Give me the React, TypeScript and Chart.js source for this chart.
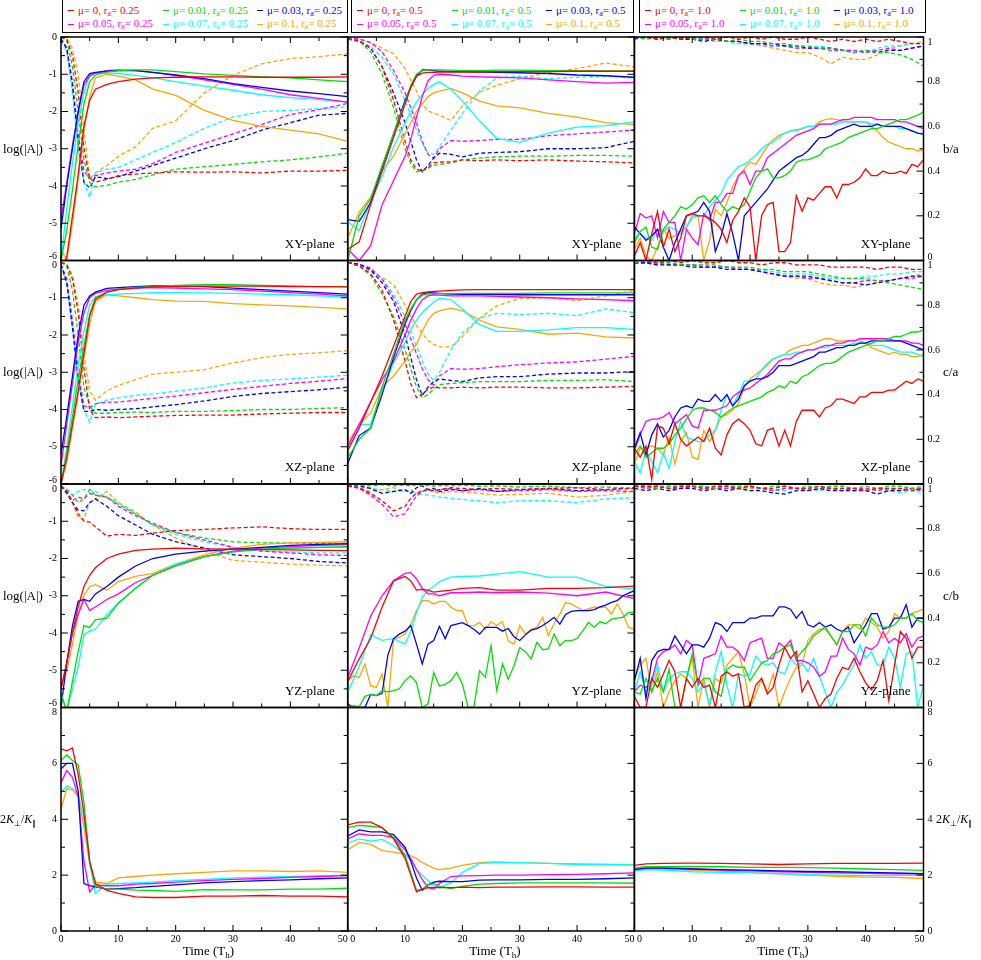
import React, { useEffect, useRef } from 'react';
import { Chart, registerables } from 'chart.js';
Chart.register(...registerables);

const W = 981;
const H = 960;
const COL_X = [61, 347.7, 634.4, 923.5];
const ROW_Y = [37, 260.5, 484, 707.5, 931];
const FONT = '"Liberation Serif", "Times New Roman", serif';

const COLORS = ['#ff0000', '#00e000', '#0000ff', '#ff00ff', '#00ffff', '#ffa500'];
const MU = ['0', '0.01', '0.03', '0.05', '0.07', '0.1'];
const RA = ['0.25', '0.5', '1.0'];
const PLANES = ['XY-plane', 'XZ-plane', 'YZ-plane'];
const RATIO_NAMES = ['b/a', 'c/a', 'c/b'];

const TIME_TICKS = [0, 10, 20, 30, 40, 50];
const LOG_TICKS = [0, -1, -2, -3, -4, -5, -6];
const RATIO_TICKS = [0, 0.2, 0.4, 0.6, 0.8, 1];
const ANISO_TICKS = [0, 2, 4, 6, 8];

// time grids
const T1 = [0, 1, 2, 3, 4, 5, 6, 8, 10, 13, 16, 20, 25, 30, 35, 40, 45, 50];
const T2 = [0, 2, 4, 6, 8, 10, 11, 12, 13, 14, 15, 16, 18, 20, 23, 26, 30, 35, 40, 45, 50];
const TF = [0, 1, 2, 3, 4, 5, 6, 7, 8, 9, 10, 11, 12, 13, 14, 15, 16, 17, 18, 19, 20, 21, 22, 23, 24, 25, 26, 27, 28, 29, 30, 31, 32, 33, 34, 35, 36, 37, 38, 39, 40, 41, 42, 43, 44, 45, 46, 47, 48, 49, 50];
const TC = [0, 2, 4, 6, 8, 10, 12, 14, 16, 18, 20, 22, 24, 26, 28, 30, 32, 34, 36, 38, 40, 42, 44, 46, 48, 50];
const TL = [0, 2, 5, 10, 15, 20, 25, 30, 35, 40, 45, 50];

// ---------- Row 1: XY plane ----------
const XY025_SOLID = [
  [-6.3, -5.9, -4.8, -3.7, -2.4, -1.7, -1.4, -1.27, -1.2, -1.13, -1.1, -1.08, -1.07, -1.07, -1.08, -1.08, -1.08, -1.07],
  [-6.0, -5.2, -4.1, -2.9, -1.8, -1.2, -1.02, -0.94, -0.9, -0.88, -0.88, -0.93, -0.99, -1.03, -1.07, -1.1, -1.15, -1.2],
  [-5.15, -4.0, -3.0, -2.0, -1.2, -0.98, -0.95, -0.92, -0.9, -0.9, -0.95, -1.02, -1.12, -1.25, -1.35, -1.45, -1.52, -1.6],
  [-4.9, -3.9, -2.9, -2.0, -1.3, -1.05, -0.97, -0.9, -0.88, -0.9, -0.95, -1.03, -1.15, -1.27, -1.4, -1.55, -1.65, -1.75],
  [-6.0, -4.6, -3.4, -2.3, -1.5, -1.0, -0.97, -0.97, -0.98, -1.03, -1.1, -1.2, -1.32, -1.43, -1.55, -1.63, -1.68, -1.75],
  [-5.7, -6.0, -5.0, -3.8, -2.5, -1.6, -1.1, -1.0, -1.05, -1.15, -1.4, -1.57, -1.97, -2.24, -2.4, -2.5, -2.6, -2.8],
];
const XY025_DASH = [
  [0, -0.05, -0.5, -1.5, -3.0, -3.8, -3.9, -3.82, -3.72, -3.68, -3.65, -3.62, -3.63, -3.62, -3.65, -3.6, -3.6, -3.58],
  [0, -0.1, -0.8, -2.0, -3.3, -3.9, -4.02, -3.98, -3.9, -3.82, -3.7, -3.55, -3.48, -3.42, -3.35, -3.3, -3.22, -3.12],
  [-0.05, -0.3, -1.3, -2.8, -3.9, -4.05, -3.75, -3.8, -3.75, -3.6, -3.45, -3.25, -3.0, -2.78, -2.5, -2.3, -2.1, -2.05],
  [-0.05, -0.3, -1.2, -2.6, -3.6, -3.8, -3.72, -3.65, -3.6, -3.55, -3.4, -3.1, -2.85, -2.6, -2.35, -2.08, -1.95, -1.78],
  [-0.1, -0.4, -1.5, -3.0, -3.9, -4.3, -3.65, -3.55, -3.5, -3.3, -3.1, -2.83, -2.45, -2.15, -2.0, -1.97, -1.92, -1.88],
  [0, -0.05, -0.3, -1.0, -2.5, -3.8, -3.65, -3.45, -3.2, -2.95, -2.45, -2.25, -1.5, -1.03, -0.72, -0.58, -0.53, -0.45],
];
const XY05_SOLID = [
  [-5.7, -5.5, -4.5, -3.6, -2.7, -1.8, -1.35, -1.05, -0.97, -0.95, -0.95, -0.94, -0.94, -0.94, -0.94, -0.93, -0.93, -0.93, -0.92, -0.92, -0.92],
  [-6.0, -4.8, -4.35, -3.45, -2.6, -1.75, -1.3, -1.0, -0.9, -0.88, -0.88, -0.88, -0.89, -0.9, -0.9, -0.89, -0.89, -0.9, -0.9, -0.91, -0.91],
  [-4.9, -4.95, -4.45, -3.5, -2.6, -1.7, -1.35, -1.05, -0.88, -0.88, -0.9, -0.92, -0.93, -0.93, -0.94, -0.95, -0.96, -0.98, -1.02, -1.04, -1.08],
  [-5.7, -6.0, -5.6, -4.5, -3.85, -3.2, -2.75, -2.15, -1.6, -1.18, -1.03, -1.0, -1.02, -1.05, -1.07, -1.08, -1.1, -1.15, -1.2, -1.24, -1.22],
  [-4.95, -5.2, -4.4, -3.75, -2.95, -2.3, -2.0, -1.75, -1.55, -1.38, -1.28, -1.2, -1.4, -1.72, -2.25, -2.72, -2.83, -2.58, -2.42, -2.38, -2.28],
  [-5.4, -4.7, -4.3, -3.6, -3.2, -2.6, -2.3, -2.0, -1.8, -1.6, -1.5, -1.45, -1.38, -1.5, -1.72, -1.85, -1.9, -2.05, -2.15, -2.3, -2.35],
];
const XY05_DASH = [
  [-0.05, -0.1, -0.3, -0.8, -1.7, -2.8, -3.3, -3.55, -3.6, -3.5, -3.38, -3.36, -3.35, -3.3, -3.32, -3.3, -3.32, -3.3, -3.33, -3.35, -3.38],
  [-0.05, -0.1, -0.4, -1.0, -1.9, -3.0, -3.4, -3.62, -3.6, -3.52, -3.45, -3.42, -3.38, -3.3, -3.25, -3.22, -3.2, -3.2, -3.18, -3.18, -3.2],
  [-0.05, -0.12, -0.3, -0.8, -1.5, -2.3, -2.8, -3.3, -3.62, -3.45, -3.25, -3.12, -3.15, -3.22, -3.12, -3.1, -3.08, -3.0, -3.0, -2.97, -2.8],
  [-0.02, -0.05, -0.15, -0.4, -0.9, -1.5, -1.9, -2.3, -2.8, -3.15, -3.25, -3.0, -2.78, -2.8, -2.78, -2.75, -2.75, -2.65, -2.6, -2.55, -2.5],
  [-0.05, -0.1, -0.25, -0.55, -1.0, -1.7, -2.1, -2.5, -2.85, -3.1, -3.15, -2.95, -2.5, -2.05, -1.45, -1.1, -1.05, -1.12, -1.08, -1.05, -1.1],
  [-0.02, -0.05, -0.15, -0.3, -0.45, -0.85, -1.15, -1.45, -1.8, -1.98, -2.05, -2.1, -2.24, -1.85, -1.48, -1.3, -1.12, -0.95, -0.85, -0.7, -0.8],
];
const BA_SOLID = [
  [0.02, 0.08, 0.0, 0.12, 0.22, 0.06, 0.14, 0.04, 0.1, 0.2, 0.21, 0.2, 0.2, 0.19, 0.17, 0.14, 0.08, 0.18, 0.22, 0.28, 0.24, 0.0, 0.2, 0.25, 0.26, 0.04, 0.04, 0.08, 0.29, 0.22, 0.28, 0.27, 0.3, 0.33, 0.33, 0.28, 0.34, 0.34, 0.35, 0.37, 0.41, 0.38, 0.38, 0.4, 0.39, 0.39, 0.4, 0.39, 0.43, 0.42, 0.45],
  [0.08, 0.13, 0.15, 0.06, 0.05, 0.14, 0.17, 0.2, 0.24, 0.23, 0.25, 0.28, 0.29, 0.26, 0.29, 0.25, 0.22, 0.24, 0.23, 0.25, 0.31, 0.37, 0.4, 0.41, 0.37, 0.37, 0.38, 0.4, 0.44, 0.45, 0.45, 0.46, 0.47, 0.5, 0.51, 0.52, 0.53, 0.55, 0.56, 0.57, 0.58, 0.59, 0.59, 0.6, 0.61, 0.62, 0.63, 0.63, 0.64, 0.65, 0.665],
  [0.15, 0.12, 0.09, 0.11, 0.14, 0.06, 0.0, 0.08, 0.14, 0.2, 0.21, 0.22, 0.26, 0.22, 0.04, 0.11, 0.21, 0.12, 0.0, 0.2, 0.23, 0.26, 0.29, 0.32, 0.36, 0.4, 0.42, 0.44, 0.46, 0.47, 0.49, 0.52, 0.55, 0.55, 0.56, 0.58, 0.59, 0.6, 0.61, 0.6, 0.6, 0.6, 0.61, 0.6, 0.6, 0.6, 0.6, 0.59, 0.58, 0.57, 0.565],
  [0.12, 0.21, 0.19, 0.2, 0.1, 0.22, 0.17, 0.17, 0.0, 0.14, 0.1, 0.07, 0.21, 0.18, 0.26, 0.26, 0.3, 0.3, 0.38, 0.4, 0.34, 0.4, 0.4, 0.46, 0.48, 0.5, 0.52, 0.54, 0.56, 0.57, 0.58, 0.59, 0.61, 0.61, 0.61, 0.62, 0.63, 0.63, 0.64, 0.64, 0.64, 0.64, 0.63, 0.63, 0.63, 0.63, 0.62, 0.62, 0.61, 0.6, 0.59],
  [0.1, 0.12, 0.1, 0.09, 0.14, 0.13, 0.15, 0.14, 0.12, 0.15, 0.19, 0.2, 0.2, 0.24, 0.27, 0.3, 0.36, 0.39, 0.42, 0.43, 0.45, 0.47, 0.5, 0.52, 0.53, 0.55, 0.57, 0.58, 0.58, 0.59, 0.6, 0.6, 0.61, 0.61, 0.61, 0.61, 0.62, 0.62, 0.62, 0.62, 0.62, 0.61, 0.61, 0.6, 0.6, 0.6, 0.59, 0.59, 0.58, 0.57, 0.565],
  [0.05, 0.1, 0.02, 0.0, 0.06, 0.14, 0.1, 0.11, 0.13, 0.15, 0.2, 0.2, 0.0, 0.09, 0.23, 0.2, 0.26, 0.33, 0.38, 0.41, 0.44, 0.43, 0.47, 0.51, 0.54, 0.56, 0.57, 0.58, 0.585, 0.59, 0.6, 0.6, 0.62, 0.63, 0.635, 0.63, 0.625, 0.62, 0.62, 0.62, 0.62, 0.6, 0.58, 0.55, 0.53, 0.52, 0.51, 0.5, 0.5, 0.49, 0.495],
];
const BA_DASH = [
  [1.0, 1.0, 0.99, 1.0, 0.99, 1.0, 1.0, 0.99, 1.0, 0.99, 1.0, 0.99, 1.0, 0.99, 0.99, 1.0, 0.99, 0.98, 0.99, 0.98, 0.99, 0.98, 0.99, 0.98, 0.97, 0.97],
  [1.0, 0.99, 1.0, 0.99, 1.0, 0.99, 0.99, 0.99, 0.98, 0.99, 0.98, 0.98, 0.97, 0.97, 0.96, 0.96, 0.95, 0.95, 0.94, 0.93, 0.94, 0.93, 0.93, 0.92, 0.9, 0.87],
  [0.99, 1.0, 0.99, 1.0, 0.99, 0.99, 0.98, 0.99, 0.98, 0.98, 0.97, 0.97, 0.97, 0.96, 0.96, 0.95, 0.95, 0.95, 0.94, 0.93, 0.94, 0.93, 0.94, 0.94, 0.95, 0.96],
  [1.0, 1.0, 1.0, 0.99, 1.0, 0.99, 0.99, 0.99, 0.98, 0.98, 0.97, 0.97, 0.96, 0.96, 0.95, 0.95, 0.95, 0.94, 0.94, 0.94, 0.93, 0.94, 0.95, 0.94, 0.95, 0.96],
  [1.0, 1.0, 0.99, 1.0, 0.99, 1.0, 0.99, 0.98, 0.98, 0.97, 0.97, 0.96, 0.96, 0.96, 0.95, 0.95, 0.96, 0.95, 0.94, 0.94, 0.93, 0.95, 0.96, 0.96, 0.97, 0.97],
  [1.0, 1.0, 1.0, 0.99, 1.0, 0.99, 0.99, 0.98, 0.98, 0.98, 0.97, 0.96, 0.95, 0.94, 0.93, 0.93, 0.91, 0.88, 0.91, 0.9, 0.9, 0.92, 0.95, 0.96, 0.97, 0.98],
];

// ---------- Row 2: XZ plane ----------
const XZ025_SOLID = [
  [-6.0, -5.3, -4.4, -3.5, -2.5, -1.5, -1.05, -0.85, -0.78, -0.74, -0.71, -0.7, -0.69, -0.69, -0.69, -0.7, -0.7, -0.71],
  [-6.0, -5.2, -4.2, -3.2, -2.3, -1.45, -1.0, -0.85, -0.78, -0.72, -0.7, -0.67, -0.65, -0.65, -0.67, -0.68, -0.7, -0.7],
  [-5.2, -4.2, -3.1, -2.0, -1.2, -0.95, -0.85, -0.75, -0.73, -0.7, -0.68, -0.68, -0.7, -0.74, -0.78, -0.82, -0.86, -0.9],
  [-5.5, -4.4, -3.3, -2.2, -1.4, -1.0, -0.88, -0.8, -0.77, -0.74, -0.73, -0.74, -0.76, -0.78, -0.82, -0.86, -0.9, -0.95],
  [-6.0, -5.0, -3.9, -2.8, -1.9, -1.2, -0.97, -0.92, -0.9, -0.88, -0.86, -0.86, -0.87, -0.88, -0.9, -0.92, -0.95, -0.98],
  [-6.0, -5.4, -4.5, -3.6, -2.6, -1.7, -1.1, -0.92, -0.95, -1.0, -1.05, -1.09, -1.1, -1.16, -1.19, -1.22, -1.26, -1.3],
];
const XZ025_DASH = [
  [-0.05, -0.1, -0.5, -1.4, -2.9, -4.0, -4.22, -4.2, -4.22, -4.2, -4.18, -4.16, -4.15, -4.15, -4.12, -4.1, -4.08, -4.08],
  [-0.05, -0.15, -0.8, -2.0, -3.4, -3.9, -4.1, -4.1, -4.08, -4.07, -4.08, -4.05, -4.05, -4.03, -4.0, -4.0, -3.97, -3.95],
  [-0.1, -0.6, -1.8, -3.2, -4.05, -4.05, -4.0, -4.02, -4.0, -3.98, -3.93, -3.87, -3.77, -3.65, -3.57, -3.52, -3.47, -3.4],
  [-0.1, -0.5, -1.6, -3.0, -3.9, -3.95, -3.85, -3.8, -3.8, -3.75, -3.7, -3.64, -3.55, -3.46, -3.38, -3.3, -3.24, -3.17],
  [-0.15, -0.6, -1.8, -3.2, -4.0, -4.35, -3.85, -3.75, -3.69, -3.62, -3.58, -3.51, -3.42, -3.29, -3.22, -3.18, -3.13, -3.08],
  [-0.05, -0.1, -0.4, -1.2, -2.5, -3.5, -3.75, -3.5, -3.35, -3.2, -3.05, -3.0, -2.93, -2.75, -2.61, -2.52, -2.48, -2.42],
];
const XZ05_SOLID = [
  [-5.1, -4.5, -3.8, -3.1, -2.3, -1.5, -1.1, -0.9, -0.86, -0.84, -0.83, -0.82, -0.8, -0.79, -0.78, -0.78, -0.78, -0.78, -0.78, -0.78, -0.78],
  [-5.3, -4.8, -4.5, -3.4, -2.5, -1.6, -1.3, -1.05, -0.93, -0.9, -0.89, -0.89, -0.89, -0.88, -0.88, -0.88, -0.88, -0.87, -0.87, -0.87, -0.87],
  [-5.45, -4.7, -4.5, -3.6, -2.6, -1.7, -1.35, -1.05, -0.9, -0.86, -0.87, -0.88, -0.9, -0.91, -0.91, -0.91, -0.92, -0.92, -0.92, -0.92, -0.92],
  [-5.0, -4.4, -3.8, -3.2, -2.7, -2.0, -1.6, -1.3, -1.05, -0.95, -0.92, -0.93, -0.95, -0.95, -0.95, -0.96, -0.98, -1.0, -1.03, -1.05, -1.08],
  [-5.0, -4.4, -4.4, -3.5, -2.75, -2.2, -1.85, -1.6, -1.4, -1.25, -1.12, -1.02, -1.05, -1.3, -1.72, -1.9, -1.9, -1.86, -1.8, -1.8, -1.85],
  [-4.9, -4.4, -4.1, -3.4, -3.1, -2.7, -2.45, -2.25, -1.9, -1.6, -1.42, -1.35, -1.28, -1.35, -1.6, -1.78, -1.85, -1.98, -1.95, -2.05, -2.08],
];
const XZ05_DASH = [
  [-0.05, -0.15, -0.35, -0.8, -1.6, -2.7, -3.3, -3.68, -3.6, -3.45, -3.4, -3.42, -3.42, -3.4, -3.42, -3.4, -3.4, -3.42, -3.42, -3.4, -3.38],
  [-0.05, -0.15, -0.4, -0.9, -1.5, -2.4, -2.9, -3.4, -3.68, -3.6, -3.45, -3.33, -3.3, -3.28, -3.25, -3.25, -3.25, -3.22, -3.22, -3.2, -3.25],
  [-0.05, -0.1, -0.25, -0.6, -1.1, -2.0, -2.6, -3.2, -3.62, -3.4, -3.25, -3.18, -3.22, -3.25, -3.15, -3.12, -3.12, -3.05, -3.02, -3.02, -2.98],
  [-0.05, -0.1, -0.2, -0.5, -1.0, -1.7, -2.1, -2.5, -2.9, -3.2, -3.35, -3.1, -2.9, -2.92, -2.9, -2.85, -2.8, -2.75, -2.72, -2.65, -2.57],
  [-0.05, -0.1, -0.25, -0.5, -0.9, -1.5, -1.9, -2.3, -2.7, -3.05, -3.22, -3.0, -2.4, -1.95, -1.55, -1.42, -1.45, -1.42, -1.48, -1.3, -1.4],
  [-0.05, -0.1, -0.3, -0.45, -0.65, -1.2, -1.5, -1.75, -1.95, -2.15, -2.25, -2.32, -2.32, -2.05, -1.55, -1.22, -1.02, -1.0, -1.08, -0.95, -0.8],
];
const CA_SOLID = [
  [0.16, 0.12, 0.17, 0.02, 0.26, 0.25, 0.18, 0.27, 0.2, 0.17, 0.19, 0.21, 0.19, 0.25, 0.16, 0.13, 0.22, 0.27, 0.29, 0.27, 0.24, 0.18, 0.17, 0.24, 0.25, 0.17, 0.24, 0.17, 0.28, 0.33, 0.33, 0.33, 0.3, 0.34, 0.35, 0.38, 0.38, 0.37, 0.36, 0.39, 0.39, 0.41, 0.41, 0.41, 0.42, 0.42, 0.44, 0.46, 0.45, 0.47, 0.46],
  [0.13, 0.17, 0.12, 0.14, 0.16, 0.16, 0.18, 0.22, 0.25, 0.29, 0.33, 0.34, 0.34, 0.33, 0.32, 0.3, 0.32, 0.34, 0.35, 0.36, 0.37, 0.38, 0.39, 0.41, 0.42, 0.44, 0.43, 0.46, 0.45, 0.48, 0.49, 0.51, 0.53, 0.54, 0.54, 0.55, 0.57, 0.59, 0.6, 0.61, 0.62, 0.63, 0.64, 0.64, 0.65, 0.66, 0.66, 0.67, 0.68, 0.68, 0.69],
  [0.16, 0.23, 0.13, 0.22, 0.27, 0.21, 0.24, 0.3, 0.34, 0.35, 0.34, 0.38, 0.37, 0.37, 0.4, 0.37, 0.4, 0.35, 0.38, 0.44, 0.46, 0.47, 0.47, 0.48, 0.5, 0.53, 0.53, 0.53, 0.54, 0.55, 0.56, 0.57, 0.59, 0.59, 0.6, 0.61, 0.61, 0.62, 0.62, 0.63, 0.63, 0.64, 0.64, 0.64, 0.64, 0.64, 0.64, 0.63, 0.62, 0.61, 0.6],
  [0.15, 0.22, 0.28, 0.29, 0.29, 0.3, 0.32, 0.27, 0.29, 0.31, 0.26, 0.25, 0.33, 0.33, 0.33, 0.34, 0.35, 0.39, 0.41, 0.42, 0.43, 0.45, 0.47, 0.49, 0.52, 0.55, 0.56, 0.56, 0.58, 0.59, 0.6, 0.6, 0.61, 0.62, 0.62, 0.63, 0.63, 0.64, 0.64, 0.65, 0.65, 0.65, 0.65, 0.65, 0.65, 0.64, 0.64, 0.64, 0.63, 0.63, 0.62],
  [0.1, 0.05, 0.15, 0.1, 0.05, 0.14, 0.07, 0.19, 0.28, 0.21, 0.2, 0.19, 0.19, 0.22, 0.24, 0.33, 0.4, 0.35, 0.4, 0.46, 0.46, 0.47, 0.51, 0.54, 0.56, 0.57, 0.58, 0.58, 0.59, 0.59, 0.6, 0.6, 0.61, 0.61, 0.62, 0.62, 0.62, 0.62, 0.63, 0.63, 0.63, 0.62, 0.62, 0.62, 0.61, 0.6, 0.59, 0.59, 0.59, 0.58, 0.57],
  [0.09, 0.16, 0.16, 0.17, 0.16, 0.13, 0.21, 0.09, 0.19, 0.23, 0.12, 0.11, 0.24, 0.19, 0.24, 0.3, 0.31, 0.33, 0.36, 0.43, 0.47, 0.49, 0.51, 0.53, 0.56, 0.57, 0.58, 0.6, 0.61, 0.62, 0.62, 0.63, 0.64, 0.65, 0.65, 0.64, 0.64, 0.64, 0.64, 0.64, 0.63, 0.61, 0.6, 0.59, 0.58, 0.59, 0.58, 0.58, 0.57, 0.57, 0.58],
];
const CA_DASH = [
  [1.0, 1.0, 0.99, 1.0, 0.99, 1.0, 0.99, 0.99, 1.0, 0.99, 0.99, 0.98, 0.99, 0.99, 0.98, 0.98, 0.98, 0.97, 0.97, 0.97, 0.97, 0.96, 0.97, 0.97, 0.96, 0.96],
  [0.99, 1.0, 0.99, 0.99, 0.98, 0.98, 0.98, 0.98, 0.97, 0.97, 0.97, 0.96, 0.96, 0.95, 0.95, 0.95, 0.94, 0.93, 0.92, 0.92, 0.92, 0.91, 0.9, 0.89, 0.88, 0.87],
  [0.99, 0.99, 0.98, 0.98, 0.98, 0.97, 0.97, 0.97, 0.96, 0.96, 0.96, 0.95, 0.94, 0.93, 0.93, 0.93, 0.92, 0.91, 0.9, 0.9, 0.89, 0.9, 0.91, 0.92, 0.93, 0.93],
  [0.99, 0.99, 0.99, 0.98, 0.98, 0.98, 0.97, 0.97, 0.97, 0.96, 0.96, 0.95, 0.94, 0.93, 0.93, 0.92, 0.92, 0.91, 0.9, 0.9, 0.91, 0.91, 0.91, 0.92, 0.92, 0.93],
  [0.99, 0.99, 0.99, 0.98, 0.98, 0.98, 0.98, 0.97, 0.97, 0.97, 0.96, 0.96, 0.95, 0.94, 0.94, 0.94, 0.93, 0.92, 0.92, 0.92, 0.93, 0.93, 0.94, 0.94, 0.95, 0.95],
  [0.99, 0.99, 0.98, 0.99, 0.98, 0.98, 0.97, 0.97, 0.97, 0.96, 0.96, 0.95, 0.94, 0.93, 0.92, 0.92, 0.9, 0.89, 0.89, 0.88, 0.89, 0.9, 0.91, 0.92, 0.93, 0.94],
];

// ---------- Row 3: YZ plane ----------
const YZ025_SOLID = [
  [-5.5, -4.8, -4.0, -3.3, -2.75, -2.45, -2.25, -2.0, -1.88, -1.78, -1.75, -1.72, -1.74, -1.75, -1.76, -1.77, -1.78, -1.79],
  [-5.6, -6.1, -5.3, -4.5, -3.8, -3.85, -3.65, -3.6, -3.2, -2.8, -2.45, -2.2, -1.95, -1.82, -1.75, -1.72, -1.7, -1.68],
  [-6.0, -4.8, -3.8, -3.15, -3.1, -3.15, -2.95, -2.75, -2.5, -2.2, -2.0, -1.88, -1.8, -1.75, -1.7, -1.65, -1.62, -1.6],
  [-5.5, -4.8, -4.0, -3.5, -3.1, -3.4, -3.3, -3.1, -2.95, -2.65, -2.45, -2.2, -1.95, -1.8, -1.72, -1.68, -1.65, -1.63],
  [-5.7, -6.1, -5.5, -4.9, -4.05, -3.95, -3.9, -3.5, -3.2, -2.8, -2.45, -2.15, -1.95, -1.82, -1.75, -1.72, -1.7, -1.7],
  [-5.4, -5.0, -4.3, -3.5, -3.0, -2.75, -2.7, -2.85, -2.62, -2.48, -2.4, -2.15, -1.9, -1.72, -1.62, -1.58, -1.57, -1.55],
];
const YZ025_DASH = [
  [-0.05, -0.2, -0.5, -0.8, -1.0, -1.02, -1.15, -1.4, -1.35, -1.38, -1.32, -1.25, -1.22, -1.18, -1.15, -1.2, -1.22, -1.22],
  [-0.05, -0.15, -0.3, -0.5, -0.4, -0.15, -0.3, -0.35, -0.55, -0.8, -1.1, -1.3, -1.45, -1.55, -1.58, -1.58, -1.6, -1.62],
  [-0.05, -0.25, -0.5, -0.7, -0.72, -0.5, -0.4, -0.6, -0.85, -1.1, -1.35, -1.55, -1.72, -1.9, -1.95, -2.0, -2.08, -2.12],
  [-0.05, -0.2, -0.45, -0.35, -0.4, -0.25, -0.3, -0.35, -0.6, -0.85, -1.05, -1.3, -1.5, -1.7, -1.8, -1.85, -1.9, -1.92],
  [-0.05, -0.15, -0.3, -0.2, -0.15, -0.15, -0.2, -0.35, -0.5, -0.8, -1.1, -1.35, -1.55, -1.7, -1.8, -1.82, -1.85, -1.85],
  [-0.05, -0.2, -0.5, -0.9, -0.95, -0.5, -0.4, -0.2, -0.5, -0.75, -1.1, -1.45, -1.8, -2.05, -2.1, -2.15, -2.18, -2.2],
];
const YZ05_RED = [-5.3, -4.7, -4.15, -3.3, -2.6, -2.48, -2.6, -2.85, -2.83, -2.85, -2.9, -2.88, -2.85, -2.8, -2.78, -2.85, -2.85, -2.8, -2.8, -2.78, -2.74];
const YZ05_GREEN = [-6.0, -5.95, -5.98, -5.7, -5.65, -5.68, -5.55, -5.58, -5.55, -5.5, -5.28, -5.15, -5.33, -6.0, -5.9, -5.06, -5.42, -5.38, -5.28, -5.06, -5.37, -6.0, -6.0, -5.01, -5.19, -4.34, -5.55, -4.83, -5.24, -4.88, -4.39, -4.5, -4.7, -4.25, -4.45, -4.43, -4.03, -4.34, -4.2, -4.21, -4.15, -3.94, -3.72, -3.85, -3.7, -3.75, -3.63, -3.6, -3.58, -3.45, -3.45];
const YZ05_BLUE = [-5.9, -6.0, -6.0, -6.0, -5.65, -5.68, -5.62, -4.6, -4.15, -4.03, -3.95, -3.8, -4.3, -4.83, -4.3, -4.2, -3.82, -4.15, -3.8, -3.76, -3.72, -3.8, -3.9, -4.03, -3.85, -3.85, -3.85, -3.95, -3.88, -4.1, -4.2, -4.05, -3.92, -3.88, -3.8, -3.7, -3.58, -3.76, -3.5, -3.42, -3.4, -3.4, -3.4, -3.37, -3.3, -3.25, -3.18, -3.13, -3.0, -2.93, -2.86];
const YZ05_MAGENTA = [-5.2, -4.4, -3.55, -3.0, -2.6, -2.4, -2.38, -2.55, -2.8, -2.95, -2.95, -3.0, -2.92, -2.92, -2.9, -2.92, -2.9, -2.93, -3.0, -2.9, -3.08];
const YZ05_CYAN = [-5.6, -4.9, -4.05, -4.2, -4.15, -4.3, -3.95, -3.45, -3.05, -2.85, -2.75, -2.62, -2.5, -2.48, -2.47, -2.42, -2.35, -2.5, -2.5, -2.75, -2.82];
const YZ05_ORANGE = [-5.28, -5.15, -5.2, -4.83, -5.42, -5.46, -5.1, -6.0, -4.16, -4.12, -4.03, -3.76, -3.4, -3.13, -3.13, -3.22, -3.15, -3.15, -3.31, -3.4, -3.4, -3.8, -3.8, -3.72, -3.9, -3.7, -3.8, -3.69, -4.21, -4.3, -3.8, -4.03, -3.9, -3.85, -3.58, -4.07, -3.75, -3.49, -3.18, -3.22, -3.31, -3.4, -3.35, -3.3, -3.32, -3.3, -3.49, -3.22, -3.49, -3.85, -3.9];
const YZ05_DASH = [
  [-0.05, -0.1, -0.25, -0.45, -0.72, -0.6, -0.38, -0.25, -0.18, -0.15, -0.18, -0.15, -0.1, -0.12, -0.15, -0.12, -0.15, -0.12, -0.1, -0.15, -0.12],
  [-0.02, -0.03, -0.05, -0.02, -0.05, -0.03, -0.05, -0.02, -0.05, -0.03, -0.06, -0.04, -0.05, -0.03, -0.06, -0.05, -0.08, -0.06, -0.1, -0.08, -0.12],
  [-0.03, -0.05, -0.12, -0.25, -0.2, -0.15, -0.25, -0.1, -0.05, -0.15, -0.12, -0.2, -0.15, -0.18, -0.12, -0.2, -0.15, -0.12, -0.18, -0.15, -0.1],
  [-0.05, -0.12, -0.3, -0.55, -0.88, -0.8, -0.55, -0.32, -0.2, -0.15, -0.2, -0.15, -0.12, -0.18, -0.15, -0.2, -0.18, -0.15, -0.2, -0.18, -0.2],
  [-0.03, -0.08, -0.12, -0.15, -0.2, -0.18, -0.22, -0.25, -0.28, -0.3, -0.32, -0.35, -0.38, -0.42, -0.45, -0.5, -0.45, -0.45, -0.5, -0.4, -0.37],
  [-0.05, -0.1, -0.2, -0.15, -0.1, -0.2, -0.15, -0.25, -0.2, -0.15, -0.2, -0.25, -0.2, -0.22, -0.25, -0.3, -0.28, -0.25, -0.35, -0.3, -0.2],
];
const CB_SOLID = [
  [0.05, 0.0, 0.0, 0.13, 0.09, 0.15, 0.21, 0.16, 0.0, 0.13, 0.09, 0.13, 0.09, 0.1, 0.0, 0.14, 0.16, 0.14, 0.15, 0.0, 0.01, 0.1, 0.13, 0.06, 0.09, 0.19, 0.27, 0.22, 0.25, 0.07, 0.12, 0.06, 0.0, 0.04, 0.06, 0.13, 0.18, 0.17, 0.22, 0.16, 0.11, 0.08, 0.12, 0.21, 0.03, 0.19, 0.34, 0.31, 0.22, 0.27, 0.27],
  [0.07, 0.06, 0.13, 0.07, 0.13, 0.07, 0.17, 0.0, 0.0, 0.13, 0.24, 0.1, 0.13, 0.13, 0.07, 0.05, 0.17, 0.19, 0.18, 0.18, 0.12, 0.16, 0.2, 0.21, 0.24, 0.25, 0.27, 0.28, 0.22, 0.25, 0.28, 0.32, 0.34, 0.36, 0.32, 0.28, 0.34, 0.34, 0.37, 0.37, 0.32, 0.4, 0.37, 0.36, 0.36, 0.37, 0.4, 0.4, 0.42, 0.39, 0.38],
  [0.12, 0.22, 0.04, 0.21, 0.25, 0.26, 0.26, 0.32, 0.28, 0.24, 0.28, 0.28, 0.27, 0.31, 0.38, 0.37, 0.34, 0.38, 0.38, 0.38, 0.4, 0.4, 0.41, 0.41, 0.41, 0.45, 0.45, 0.44, 0.4, 0.43, 0.37, 0.36, 0.38, 0.36, 0.37, 0.35, 0.34, 0.36, 0.29, 0.33, 0.37, 0.42, 0.42, 0.35, 0.36, 0.4, 0.4, 0.46, 0.36, 0.4, 0.4],
  [0.07, 0.1, 0.09, 0.12, 0.22, 0.25, 0.26, 0.28, 0.24, 0.3, 0.28, 0.1, 0.22, 0.23, 0.24, 0.32, 0.27, 0.27, 0.25, 0.21, 0.29, 0.3, 0.31, 0.22, 0.22, 0.29, 0.27, 0.3, 0.21, 0.21, 0.2, 0.18, 0.14, 0.16, 0.23, 0.23, 0.31, 0.26, 0.24, 0.19, 0.27, 0.26, 0.28, 0.34, 0.29, 0.31, 0.29, 0.33, 0.27, 0.31, 0.32],
  [0.07, 0.16, 0.07, 0.1, 0.19, 0.07, 0.13, 0.15, 0.16, 0.16, 0.13, 0.07, 0.11, 0.01, 0.16, 0.25, 0.1, 0.0, 0.15, 0.14, 0.15, 0.23, 0.2, 0.19, 0.2, 0.16, 0.15, 0.22, 0.19, 0.2, 0.16, 0.22, 0.14, 0.07, 0.0, 0.07, 0.1, 0.15, 0.19, 0.28, 0.22, 0.25, 0.19, 0.19, 0.27, 0.22, 0.09, 0.24, 0.25, 0.0, 0.1],
  [0.13, 0.19, 0.22, 0.07, 0.16, 0.0, 0.07, 0.12, 0.15, 0.13, 0.22, 0.0, 0.13, 0.0, 0.13, 0.11, 0.19, 0.22, 0.25, 0.15, 0.0, 0.06, 0.13, 0.07, 0.15, 0.0, 0.07, 0.13, 0.18, 0.19, 0.3, 0.33, 0.35, 0.35, 0.32, 0.28, 0.34, 0.37, 0.37, 0.35, 0.4, 0.38, 0.36, 0.31, 0.34, 0.42, 0.4, 0.4, 0.42, 0.43, 0.44],
];
const CB_DASH = [
  [0.99, 0.99, 0.99, 0.98, 0.99, 0.99, 0.98, 0.99, 0.99, 0.98, 0.99, 0.98, 0.98, 0.99, 0.98, 0.98, 0.99, 0.98, 0.98, 0.98, 0.97, 0.98, 0.98, 0.98, 0.97, 0.98],
  [0.99, 0.99, 0.98, 0.99, 0.99, 0.99, 0.99, 0.98, 0.99, 0.99, 0.99, 0.98, 0.99, 0.99, 0.98, 0.99, 0.98, 0.99, 0.99, 0.98, 0.99, 0.98, 0.99, 0.99, 0.98, 0.99],
  [0.98, 0.97, 0.98, 0.97, 0.98, 0.98, 0.97, 0.98, 0.97, 0.98, 0.97, 0.97, 0.96, 0.955, 0.97, 0.97, 0.98, 0.97, 0.97, 0.97, 0.97, 0.955, 0.97, 0.97, 0.98, 0.97],
  [0.99, 0.98, 0.99, 0.98, 0.98, 0.99, 0.98, 0.98, 0.98, 0.98, 0.99, 0.98, 0.97, 0.98, 0.98, 0.97, 0.98, 0.98, 0.97, 0.98, 0.98, 0.97, 0.98, 0.97, 0.98, 0.98],
  [0.99, 0.99, 0.98, 0.99, 0.98, 0.98, 0.99, 0.98, 0.98, 0.98, 0.97, 0.98, 0.97, 0.97, 0.98, 0.98, 0.97, 0.98, 0.97, 0.97, 0.98, 0.97, 0.97, 0.96, 0.97, 0.96],
  [0.99, 0.98, 0.99, 0.99, 0.98, 0.99, 0.98, 0.98, 0.99, 0.98, 0.98, 0.98, 0.97, 0.98, 0.98, 0.98, 0.97, 0.98, 0.98, 0.97, 0.98, 0.98, 0.97, 0.98, 0.98, 0.97],
];

// ---------- Row 4: 2K_perp / K_par ----------
const ANISO025 = [
  [6.52, 6.45, 6.55, 5.6, 4.2, 2.5, 1.7, 1.45, 1.35, 1.22, 1.2, 1.2, 1.25, 1.25, 1.27, 1.25, 1.25, 1.22],
  [6.1, 6.3, 6.1, 5.95, 4.6, 2.5, 1.6, 1.5, 1.5, 1.46, 1.45, 1.42, 1.48, 1.47, 1.47, 1.5, 1.5, 1.53],
  [5.8, 6.0, 6.0, 5.0, 1.7, 1.62, 1.58, 1.5, 1.52, 1.55, 1.6, 1.65, 1.72, 1.77, 1.8, 1.83, 1.87, 1.9],
  [5.3, 5.75, 5.5, 4.8, 2.5, 1.4, 1.65, 1.62, 1.62, 1.68, 1.7, 1.75, 1.8, 1.85, 1.88, 1.92, 1.95, 1.98],
  [4.95, 5.2, 5.1, 4.9, 4.0, 2.4, 1.35, 1.68, 1.7, 1.72, 1.75, 1.8, 1.85, 1.9, 1.93, 1.95, 1.97, 2.0],
  [4.35, 5.1, 5.05, 4.8, 3.7, 2.4, 1.75, 1.7, 1.9, 1.95, 2.0, 2.05, 2.1, 2.15, 2.15, 2.13, 2.15, 2.1],
];
const ANISO05 = [
  [3.8, 3.9, 3.9, 3.7, 3.3, 2.6, 2.0, 1.4, 1.5, 1.55, 1.55, 1.55, 1.55, 1.57, 1.55, 1.57, 1.57, 1.58, 1.58, 1.57, 1.57],
  [3.7, 3.78, 3.75, 3.7, 3.35, 2.7, 2.1, 1.45, 1.5, 1.65, 1.7, 1.6, 1.52, 1.6, 1.68, 1.7, 1.72, 1.72, 1.72, 1.72, 1.71],
  [3.4, 3.62, 3.55, 3.55, 3.45, 3.0, 2.5, 1.9, 1.45, 1.65, 1.75, 1.78, 1.77, 1.77, 1.82, 1.83, 1.83, 1.85, 1.85, 1.87, 1.9],
  [3.3, 3.48, 3.42, 3.42, 3.35, 2.9, 2.6, 2.2, 1.85, 1.55, 1.5, 1.7, 1.95, 1.97, 1.98, 2.0, 2.0, 2.02, 2.03, 2.05, 2.08],
  [3.15, 3.3, 3.22, 3.28, 3.05, 2.75, 2.55, 2.2, 2.0, 1.8, 1.62, 1.55, 1.72, 2.1, 2.42, 2.45, 2.45, 2.42, 2.38, 2.38, 2.37],
  [2.9, 3.17, 3.1, 2.88, 2.82, 2.75, 2.7, 2.6, 2.45, 2.35, 2.25, 2.2, 2.25, 2.35, 2.45, 2.47, 2.45, 2.42, 2.4, 2.38, 2.37],
];
const ANISO10 = [
  [2.35, 2.4, 2.42, 2.43, 2.42, 2.4, 2.38, 2.4, 2.42, 2.42, 2.42, 2.43],
  [2.25, 2.3, 2.3, 2.3, 2.3, 2.28, 2.28, 2.27, 2.25, 2.22, 2.2, 2.17],
  [2.2, 2.25, 2.25, 2.22, 2.2, 2.18, 2.15, 2.13, 2.12, 2.1, 2.08, 2.05],
  [2.22, 2.27, 2.27, 2.22, 2.18, 2.15, 2.12, 2.1, 2.08, 2.06, 2.05, 2.05],
  [2.15, 2.2, 2.18, 2.12, 2.1, 2.08, 2.05, 2.02, 2.0, 1.98, 1.98, 2.0],
  [2.2, 2.22, 2.22, 2.18, 2.14, 2.1, 2.05, 2.0, 1.96, 1.93, 1.92, 1.88],
];

// ---------- build datasets ----------
function mk(xs: number[] | number[][], ys: number[][], dashed: boolean) {
  return ys.map((y, i) => {
    const xx = Array.isArray(xs[0]) ? (xs as number[][])[i] : (xs as number[]);
    return {
      label: `mu=${MU[i]}${dashed ? ' (dashed)' : ''}`,
      data: xx.map((t, k) => ({ x: t, y: y[k] })),
      borderColor: COLORS[i],
      backgroundColor: COLORS[i],
      borderWidth: 1.3,
      borderDash: dashed ? [4, 2.5] : [],
      pointRadius: 0,
      tension: 0,
      fill: false,
    };
  });
}

type PanelDef = {
  row: number;
  col: number;
  yMin: number;
  yMax: number;
  yTicks: number[];
  datasets: any[];
};

const LOG = { yMin: -6, yMax: 0, yTicks: LOG_TICKS };
const RAT = { yMin: 0, yMax: 1, yTicks: RATIO_TICKS };
const ANI = { yMin: 0, yMax: 8, yTicks: ANISO_TICKS };

const PANELS: PanelDef[] = [
  { row: 0, col: 0, ...LOG, datasets: [...mk(T1, XY025_SOLID, false), ...mk(T1, XY025_DASH, true)] },
  { row: 0, col: 1, ...LOG, datasets: [...mk(T2, XY05_SOLID, false), ...mk(T2, XY05_DASH, true)] },
  { row: 0, col: 2, ...RAT, datasets: [...mk(TF, BA_SOLID, false), ...mk(TC, BA_DASH, true)] },
  { row: 1, col: 0, ...LOG, datasets: [...mk(T1, XZ025_SOLID, false), ...mk(T1, XZ025_DASH, true)] },
  { row: 1, col: 1, ...LOG, datasets: [...mk(T2, XZ05_SOLID, false), ...mk(T2, XZ05_DASH, true)] },
  { row: 1, col: 2, ...RAT, datasets: [...mk(TF, CA_SOLID, false), ...mk(TC, CA_DASH, true)] },
  { row: 2, col: 0, ...LOG, datasets: [...mk(T1, YZ025_SOLID, false), ...mk(T1, YZ025_DASH, true)] },
  {
    row: 2, col: 1, ...LOG,
    datasets: [
      ...mk([T2, TF, TF, T2, T2, TF], [YZ05_RED, YZ05_GREEN, YZ05_BLUE, YZ05_MAGENTA, YZ05_CYAN, YZ05_ORANGE], false),
      ...mk(T2, YZ05_DASH, true),
    ],
  },
  { row: 2, col: 2, ...RAT, datasets: [...mk(TF, CB_SOLID, false), ...mk(TC, CB_DASH, true)] },
  { row: 3, col: 0, ...ANI, datasets: mk(T1, ANISO025, false) },
  { row: 3, col: 1, ...ANI, datasets: mk(T2, ANISO05, false) },
  { row: 3, col: 2, ...ANI, datasets: mk(TL, ANISO10, false) },
];

const mids = (a: number[]) => a.slice(1).map((v, i) => (v + a[i]) / 2);

const framePlugin = {
  id: 'frame',
  afterDraw(chart: any, _args: any, o: any) {
    const { ctx, chartArea: a } = chart;
    const xs = chart.scales.x;
    const ys = chart.scales.y;
    const p: PanelDef = o.panel;
    ctx.save();
    ctx.strokeStyle = '#000';
    ctx.lineWidth = 1;
    ctx.beginPath();
    const xMaj = TIME_TICKS.map((t) => [xs.getPixelForValue(t), 6]);
    const xMin = mids(TIME_TICKS).map((t) => [xs.getPixelForValue(t), 4]);
    [...xMaj, ...xMin].forEach(([px, len]) => {
      ctx.moveTo(px, a.bottom);
      ctx.lineTo(px, a.bottom - len);
      if (p.row === 0) {
        ctx.moveTo(px, a.top);
        ctx.lineTo(px, a.top + len);
      }
    });
    const yMaj = p.yTicks.map((v) => [ys.getPixelForValue(v), 7]);
    const yMin = mids(p.yTicks).map((v) => [ys.getPixelForValue(v), 4]);
    [...yMaj, ...yMin].forEach(([py, len]) => {
      ctx.moveTo(a.right, py);
      ctx.lineTo(a.right - len, py);
      if (p.col === 0) {
        ctx.moveTo(a.left, py);
        ctx.lineTo(a.left + len, py);
      }
    });
    ctx.stroke();
    ctx.lineWidth = 1.5;
    ctx.strokeRect(a.left, a.top, a.right - a.left, a.bottom - a.top);

    ctx.fillStyle = '#000';
    ctx.font = `10px ${FONT}`;
    ctx.textBaseline = 'middle';
    if (p.col === 0) {
      ctx.textAlign = 'right';
      p.yTicks.forEach((v) => {
        let off = 0;
        if (v === p.yMax && p.row > 0) off = 5;
        if (v === p.yMin && p.row < 3) off = -4;
        ctx.fillText(String(v), a.left - 4, ys.getPixelForValue(v) + off);
      });
    }
    if (p.col === 2) {
      ctx.textAlign = 'left';
      p.yTicks.forEach((v) => {
        let off = 0;
        if (v === p.yMax) off = 5;
        if (v === p.yMin && p.row < 3) off = -3;
        ctx.fillText(String(v), a.right + 4, ys.getPixelForValue(v) + off);
      });
    }
    if (p.row === 3) {
      ctx.textAlign = 'center';
      TIME_TICKS.forEach((t) => {
        let off = 0;
        if (t === 0 && p.col > 0) off = 5;
        if (t === 50) off = p.col < 2 ? -5 : -4;
        ctx.fillText(String(t), xs.getPixelForValue(t) + off, a.bottom + 8);
      });
    }
    ctx.restore();
  },
};

function PanelChart({ p }: { p: PanelDef }) {
  const ref = useRef<HTMLCanvasElement>(null);
  useEffect(() => {
    const x0 = COL_X[p.col];
    const x1 = COL_X[p.col + 1];
    const y0 = ROW_Y[p.row];
    const y1 = ROW_Y[p.row + 1];
    const chart = new Chart(ref.current as HTMLCanvasElement, {
      type: 'line',
      data: { datasets: p.datasets },
      options: {
        responsive: false,
        maintainAspectRatio: false,
        animation: false,
        events: [],
        layout: { padding: { left: x0, top: y0, right: W - x1, bottom: H - y1 } },
        scales: {
          x: { type: 'linear', min: 0, max: 50, display: false },
          y: { type: 'linear', min: p.yMin, max: p.yMax, display: false },
        },
        plugins: {
          legend: { display: false },
          tooltip: { enabled: false },
          frame: { panel: p },
        } as any,
        elements: { point: { radius: 0 }, line: { tension: 0 } },
      },
      plugins: [framePlugin],
    } as any);
    return () => chart.destroy();
  }, [p]);
  return (
    <canvas
      ref={ref}
      width={W}
      height={H}
      style={{ position: 'absolute', left: 0, top: 0, width: W, height: H, pointerEvents: 'none' }}
    />
  );
}

const LEG_X = [62, 351, 639];
const LEG_W = [286, 283, 287];
const LEG_ENTRY_X = [5, 100, 194];

function KRatio() {
  return (
    <span>
      2<i>K</i>
      <span style={{ fontSize: 8, position: 'relative', top: 3 }}>⊥</span>/<i>K</i>
      <span style={{ fontSize: 8, position: 'relative', top: 3 }}>∥</span>
    </span>
  );
}

export default function App() {
  const rowMid = (r: number) => (ROW_Y[r] + ROW_Y[r + 1]) / 2;
  return (
    <div
      style={{
        position: 'absolute', left: 0, top: 0, width: W, height: H, overflow: 'hidden',
        background: '#fff', fontFamily: FONT, color: '#000',
      }}
    >
      {RA.map((ra, b) => (
        <div
          key={'leg' + b}
          style={{
            position: 'absolute', left: LEG_X[b], top: -1, width: LEG_W[b], height: 34,
            border: '1px solid #000', boxSizing: 'border-box',
          }}
        >
          {MU.map((mu, i) => (
            <div
              key={i}
              style={{
                position: 'absolute', left: LEG_ENTRY_X[i % 3], top: i < 3 ? 3.5 : 17, fontSize: 11,
                lineHeight: '13px', color: COLORS[i], whiteSpace: 'nowrap',
              }}
            >
              <span
                style={{
                  display: 'inline-block', width: 6, height: 0, borderTop: `1px solid ${COLORS[i]}`,
                  verticalAlign: 'middle', marginRight: 4,
                }}
              />
              μ= {mu}, r<span style={{ fontSize: 8, position: 'relative', top: 2 }}>a</span>= {ra}
            </div>
          ))}
        </div>
      ))}

      {PANELS.map((p, i) => (
        <PanelChart key={i} p={p} />
      ))}

      {[0, 1, 2].map((r) =>
        [0, 1, 2].map((c) => (
          <div
            key={`pl${r}${c}`}
            style={{
              position: 'absolute', left: COL_X[c], width: COL_X[c + 1] - COL_X[c] - 13,
              top: ROW_Y[r + 1] - 24, textAlign: 'right', fontSize: 13, lineHeight: '14px',
            }}
          >
            {PLANES[r]}
          </div>
        ))
      )}

      {[0, 1, 2].map((r) => (
        <div key={'lt' + r} style={{ position: 'absolute', left: 3, top: rowMid(r) - 8, fontSize: 13, lineHeight: '16px' }}>
          log(|A|)
        </div>
      ))}
      <div style={{ position: 'absolute', left: 0, top: rowMid(3) - 8, fontSize: 12, lineHeight: '16px' }}>
        <KRatio />
      </div>

      {[0, 1, 2].map((r) => (
        <div key={'rt' + r} style={{ position: 'absolute', left: 943, top: rowMid(r) - 8, fontSize: 13, lineHeight: '16px' }}>
          {RATIO_NAMES[r]}
        </div>
      ))}
      <div style={{ position: 'absolute', left: 936, top: rowMid(3) - 8, fontSize: 12, lineHeight: '16px', whiteSpace: 'nowrap' }}>
        <KRatio />
      </div>

      {[0, 1, 2].map((c) => (
        <div
          key={'tm' + c}
          style={{
            position: 'absolute', left: COL_X[c] + 4, width: COL_X[c + 1] - COL_X[c], top: 943,
            textAlign: 'center', fontSize: 13, lineHeight: '16px',
          }}
        >
          Time (T<span style={{ fontSize: 9, position: 'relative', top: 3 }}>h</span>)
        </div>
      ))}
    </div>
  );
}
